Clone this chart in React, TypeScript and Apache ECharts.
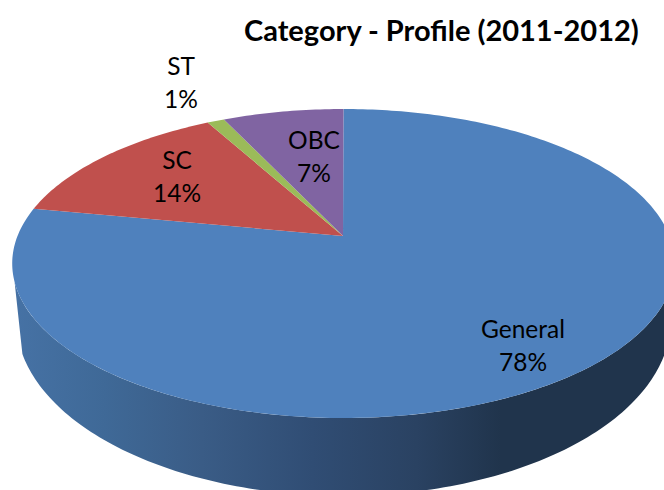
import React, { useEffect, useRef } from "react";
import * as echarts from "echarts";

const categories = ["General", "SC", "ST", "OBC"];
const values = [78, 14, 1, 7];
const sliceColors = ["#4f81bd", "#c0504d", "#9bbb59", "#8064a2"];
const titleText = "Category - Profile (2011-2012)";

// label centres, in page pixels
const labelCentres = [
  [523, 345],
  [177, 176],
  [181, 82],
  [314, 156],
];

// perspective of the disc's top and bottom faces
const PERSPECTIVE = 0.178;
const TOP_FACE = { x0: 343.5, y0: 236, a: 326, b: 149.6 };
const BOTTOM_FACE = { x0: 343.5, y0: 289, a: 322, b: 170 };
// angles (clockwise from the top) at which the rim's silhouette leaves each face
const RIM_TOP = [107, 253];
const RIM_BOTTOM = [111, 249];

function project(face: typeof TOP_FACE, deg: number): number[] {
  const t = (deg * Math.PI) / 180;
  const u = Math.sin(t);
  const v = -Math.cos(t);
  const d = 1 - PERSPECTIVE * v;
  return [face.x0 + (face.a * u) / d, face.y0 + (face.b * v) / d];
}

function arc(face: typeof TOP_FACE, from: number, to: number): number[][] {
  const n = Math.max(2, Math.ceil(Math.abs(to - from)));
  const pts: number[][] = [];
  for (let i = 0; i <= n; i++) pts.push(project(face, from + ((to - from) * i) / n));
  return pts;
}

const total = values.reduce((s, v) => s + v, 0);

function renderItem(params: any, api: any) {
  const i = params.dataIndex;
  const before = values.slice(0, i).reduce((s, v) => s + v, 0);
  const from = (before / total) * 360;
  const to = ((before + api.value(0)) / total) * 360;
  const children: any[] = [];
  if (from < RIM_TOP[1] && to > RIM_TOP[0]) {
    children.push({
      type: "polygon",
      shape: {
        points: [
          ...arc(TOP_FACE, Math.max(from, RIM_TOP[0]), Math.min(to, RIM_TOP[1])),
          ...arc(BOTTOM_FACE, Math.min(to, RIM_BOTTOM[1]), Math.max(from, RIM_BOTTOM[0])),
        ],
      },
      style: {
        fill: {
          type: "linear",
          x: 13,
          y: 0,
          x2: 664,
          y2: 0,
          global: true,
          colorStops: [
            { offset: 0, color: "#4672a5" },
            { offset: 0.14, color: "#3f6997" },
            { offset: 0.29, color: "#3a5c86" },
            { offset: 0.46, color: "#304d74" },
            { offset: 0.62, color: "#2a4262" },
            { offset: 0.75, color: "#20344c" },
            { offset: 1, color: "#20344c" },
          ],
        },
      },
    });
  }
  children.push({
    type: "polygon",
    shape: { points: [[TOP_FACE.x0 - 0.5, TOP_FACE.y0], ...arc(TOP_FACE, from, to)] },
    style: { fill: sliceColors[i] },
  });
  const [lx, ly] = labelCentres[i];
  children.push({
    type: "text",
    x: lx,
    y: ly,
    z2: 10,
    style: {
      text: `${categories[i]}\n${api.value(0)}%`,
      fill: "#000000",
      font: "24.5px Lato, sans-serif",
      lineHeight: 33,
      align: "center",
      verticalAlign: "middle",
    },
  });
  return { type: "group", children };
}

export default function App() {
  const ref = useRef<HTMLDivElement>(null);
  useEffect(() => {
    document.body.style.margin = "0";
    const chart = echarts.init(ref.current!, undefined, { renderer: "svg" });
    chart.setOption({
      animation: false,
      backgroundColor: "#ffffff",
      title: {
        text: titleText,
        left: 239,
        top: 10,
        textStyle: { fontFamily: "Lato, sans-serif", fontWeight: "bold", fontSize: 29, color: "#000000" },
      },
      series: [
        {
          type: "custom",
          coordinateSystem: "none",
          data: values.map((v) => [v]),
          renderItem,
          silent: true,
        },
      ],
    });
    return () => chart.dispose();
  }, []);
  return <div ref={ref} style={{ width: 664, height: 490 }} />;
}
